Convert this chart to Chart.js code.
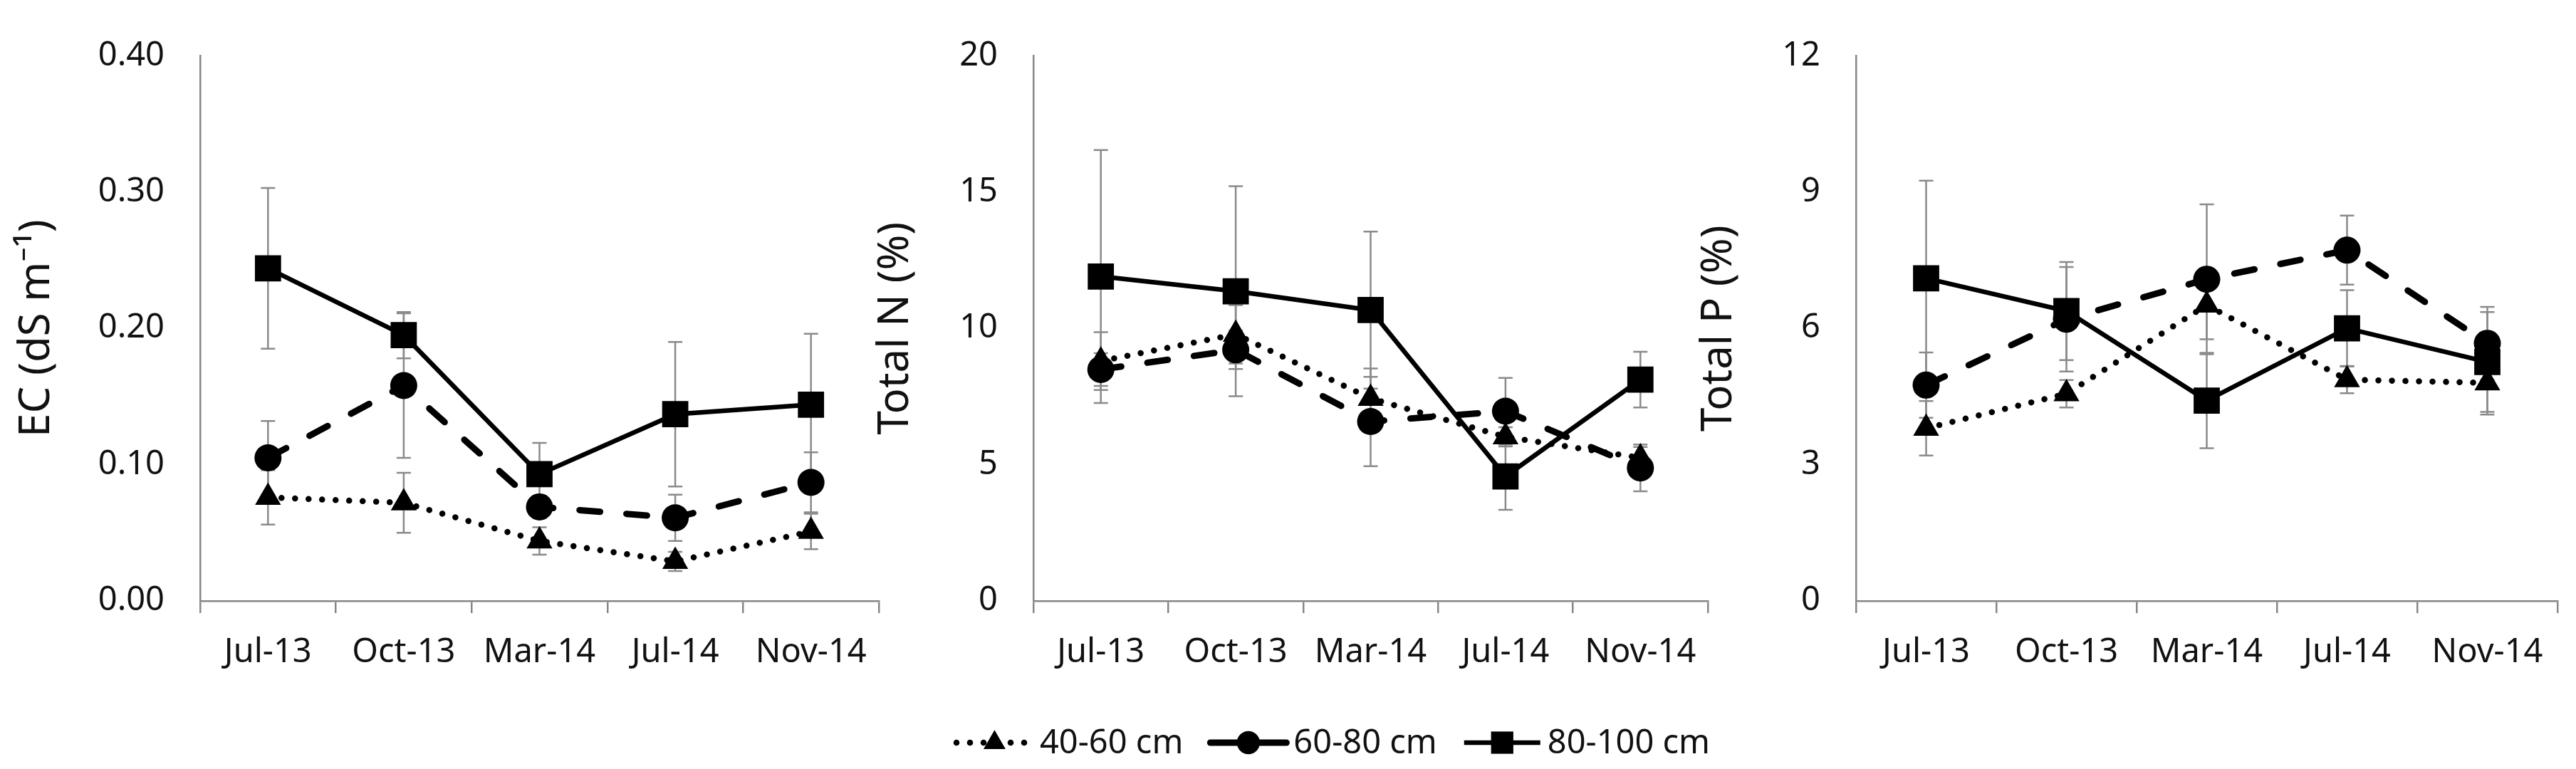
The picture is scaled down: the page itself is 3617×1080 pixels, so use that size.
<!DOCTYPE html>
<html>
<head>
<meta charset="utf-8">
<script src="https://cdn.jsdelivr.net/npm/chart.js@4.4.1/dist/chart.umd.min.js"></script>
<style>
    html, body { margin: 0; padding: 0; background: #fff; }
    #wrap { position: relative; width: 3617px; height: 1080px; overflow: hidden; }
    canvas { position: absolute; top: 0; }
</style>
</head>
<body>
<div id="wrap">
    <canvas id="chartEC" width="1260" height="1080" style="left:0px"></canvas>
    <canvas id="chartN" width="1250" height="1080" style="left:1200px"></canvas>
    <canvas id="chartP" width="1247" height="1080" style="left:2370px"></canvas>
</div>
<script>
// --- data ---
const months = ['Jul-13', 'Oct-13', 'Mar-14', 'Jul-14', 'Nov-14'];
const depths = ['40-60 cm', '60-80 cm', '80-100 cm'];

// EC (dS m-1)
const ec40 = [0.076, 0.072, 0.044, 0.029, 0.051];
const ec60 = [0.105, 0.158, 0.069, 0.061, 0.087];
const ec80 = [0.244, 0.195, 0.093, 0.137, 0.144];
const ecErr40 = [0.020, 0.022, 0.010, 0.007, 0.013];
const ecErr60 = [0.027, 0.053, 0.008, 0.017, 0.022];
const ecErr80 = [0.059, 0.017, 0.023, 0.053, 0.052];
const ecTicks = ['0.00', '0.10', '0.20', '0.30', '0.40'];

// Total N (%)
const n40 = [8.80, 9.78, 7.43, 6.02, 5.25];
const n60 = [8.49, 9.21, 6.58, 6.96, 4.88];
const n80 = [11.90, 11.36, 10.67, 4.57, 8.12];
const nErr40 = [1.06, 1.07, 1.10, 0.35, 0.40];
const nErr60 = [0.60, 0.70, 1.64, 1.22, 0.86];
const nErr80 = [4.64, 3.85, 2.88, 1.23, 1.02];
const nTicks = ['0', '5', '10', '15', '20'];

// Total P (%)
const p40 = [3.80, 4.56, 6.51, 4.87, 4.80];
const p60 = [4.75, 6.20, 7.08, 7.72, 5.67];
const p80 = [7.10, 6.38, 4.41, 6.00, 5.26];
const pErr40 = [0.60, 0.30, 0.75, 0.30, 0.70];
const pErr60 = [0.72, 1.15, 1.65, 0.76, 0.80];
const pErr80 = [2.15, 1.08, 1.05, 0.84, 1.10];
const pTicks = ['0', '3', '6', '9', '12'];

const FONT = "'Noto Sans', 'Open Sans', sans-serif";
const TEXT = '#111';
const AXIS = '#868686';
const PLOT_TOP = 38;
const PLOT_BOTTOM = 844;

// vertical error bars, drawn under the lines and markers
const errorBars = {
    id: 'errorBars',
    beforeDatasetsDraw(chart) {
        const ctx = chart.ctx;
        const y = chart.scales.y;
        const cap = 10;
        ctx.save();
        ctx.strokeStyle = '#8a8a8a';
        ctx.lineWidth = 2.5;
        chart.data.datasets.forEach((ds, i) => {
            chart.getDatasetMeta(i).data.forEach((pt, j) => {
                const v = ds.data[j], e = ds.errors[j];
                const top = y.getPixelForValue(v + e);
                const bot = y.getPixelForValue(v - e);
                ctx.beginPath();
                ctx.moveTo(pt.x, top); ctx.lineTo(pt.x, bot);
                ctx.moveTo(pt.x - cap, top); ctx.lineTo(pt.x + cap, top);
                ctx.moveTo(pt.x - cap, bot); ctx.lineTo(pt.x + cap, bot);
                ctx.stroke();
            });
        });
        ctx.restore();
    }
};

// legend under the middle panel: line sample + marker + label
const bottomLegend = {
    id: 'bottomLegend',
    afterDraw(chart, args, opts) {
        if (!opts.show) return;
        const ctx = chart.ctx;
        const sample = 107, gap = 10, spacing = 38;
        const items = chart.data.datasets.slice();
        ctx.save();
        ctx.font = '47px ' + FONT;
        const widths = items.map(ds => sample + gap + ctx.measureText(ds.label).width);
        const total = widths.reduce((a, b) => a + b, 0) + spacing * (items.length - 1);
        let x = opts.centerX - total / 2;
        const y = opts.y;
        items.forEach((ds, i) => {
            ctx.strokeStyle = ds.borderColor;
            ctx.lineWidth = ds.borderWidth;
            ctx.lineCap = ds.borderCapStyle || 'butt';
            ctx.setLineDash(ds.legendDash || []);
            ctx.beginPath();
            ctx.moveTo(x, y);
            ctx.lineTo(x + sample, y);
            ctx.stroke();
            ctx.setLineDash([]);
            ctx.fillStyle = ds.backgroundColor;
            Chart.helpers.drawPoint(ctx, {
                pointStyle: ds.pointStyle,
                radius: ds.pointRadius * 0.85,
                borderWidth: 0,
                rotation: 0
            }, x + sample / 2, y);
            ctx.fillStyle = TEXT;
            ctx.textAlign = 'left';
            ctx.textBaseline = 'middle';
            ctx.fillText(ds.label, x + sample + gap, y + 2);
            x += widths[i] + spacing;
        });
        ctx.restore();
    }
};

function makeDatasets(v40, v60, v80, e40, e60, e80) {
    return [
        {
            label: depths[0], data: v40, errors: e40,
            borderColor: '#000', backgroundColor: '#000',
            borderWidth: 8.5, borderDash: [0.1, 18.9], legendDash: [0.1, 18.9], borderCapStyle: 'round',
            pointStyle: 'triangle', pointRadius: 21, pointBorderWidth: 0, order: 2
        },
        {
            label: depths[1], data: v60, errors: e60,
            borderColor: '#000', backgroundColor: '#000',
            borderWidth: 9, borderDash: [29, 37], borderCapStyle: 'round',
            pointStyle: 'circle', pointRadius: 19, pointBorderWidth: 0, order: 1
        },
        {
            label: depths[2], data: v80, errors: e80,
            borderColor: '#000', backgroundColor: '#000',
            borderWidth: 6.5,
            pointStyle: 'rect', pointRadius: 26, pointBorderWidth: 0, order: 0
        }
    ];
}

function makeChart(id, datasets, opt) {
    return new Chart(document.getElementById(id), {
        type: 'line',
        data: { labels: months, datasets: datasets },
        options: {
            responsive: false,
            animation: false,
            events: [],
            layout: { padding: { left: 0, top: PLOT_TOP, right: opt.right, bottom: 0 } },
            elements: { line: { tension: 0, fill: false } },
            plugins: {
                legend: { display: false },
                tooltip: { enabled: false },
                bottomLegend: opt.legend || { show: false }
            },
            scales: {
                x: {
                    type: 'category',
                    offset: true,
                    grid: { offset: true, drawOnChartArea: false, drawTicks: true, tickLength: 17, color: AXIS, lineWidth: 2.5 },
                    border: { color: AXIS, width: 2.5 },
                    ticks: { font: { size: 47, family: FONT }, color: TEXT, padding: 27, maxRotation: 0, autoSkip: false },
                    afterFit: (s) => { s.height = 1080 - PLOT_BOTTOM; }
                },
                y: {
                    min: 0, max: opt.max,
                    ticks: {
                        stepSize: opt.step,
                        callback: (v, i) => opt.ticks[i],
                        font: { size: 47, family: FONT }, color: TEXT, padding: 50
                    },
                    grid: { display: false, drawTicks: false },
                    border: { display: true, color: AXIS, width: 2.5 },
                    title: {
                        display: true, text: opt.title, color: TEXT,
                        font: { size: 60, family: FONT },
                        padding: { top: opt.titlePad, bottom: 0 }
                    },
                    afterFit: (s) => { s.width = opt.left; }
                }
            }
        },
        plugins: [errorBars, bottomLegend]
    });
}

makeChart('chartEC', makeDatasets(ec40, ec60, ec80, ecErr40, ecErr60, ecErr80),
    { max: 0.4, step: 0.1, ticks: ecTicks, title: 'EC (dS m⁻¹)', left: 281, right: 12, titlePad: 16 });

makeChart('chartN', makeDatasets(n40, n60, n80, nErr40, nErr60, nErr80),
    { max: 20, step: 5, ticks: nTicks, title: 'Total N (%)', left: 251, right: 52, titlePad: 22,
      legend: { show: true, centerX: 672, y: 1043 } });

makeChart('chartP', makeDatasets(p40, p60, p80, pErr40, pErr60, pErr80),
    { max: 12, step: 3, ticks: pTicks, title: 'Total P (%)', left: 236, right: 24, titlePad: 8 });
</script>
</body>
</html>
